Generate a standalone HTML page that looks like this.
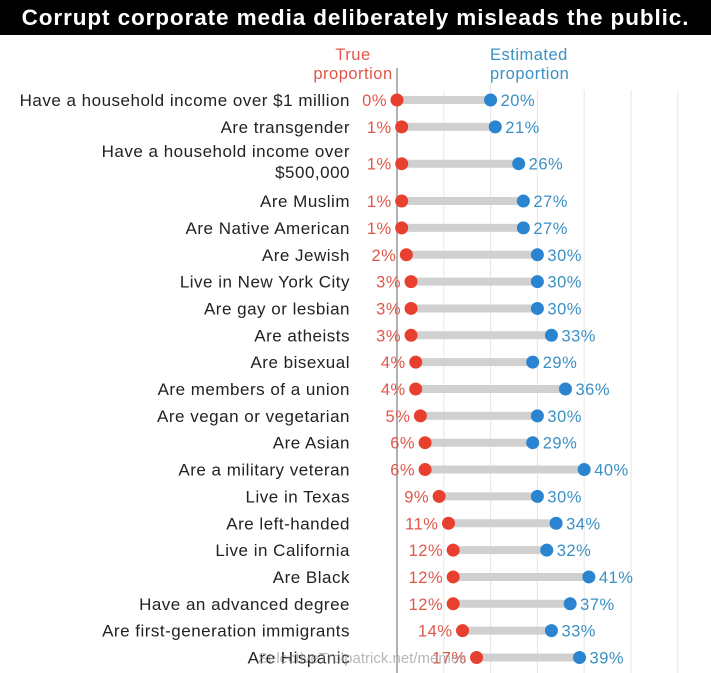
<!DOCTYPE html>
<html><head><meta charset="utf-8"><style>
body{margin:0;background:#fff;width:711px;height:673px;overflow:hidden;font-family:"Liberation Sans",sans-serif}
#title{position:absolute;left:0;top:0;width:711px;height:35px;background:#000;color:#fff;font-weight:bold;font-size:22.5px;letter-spacing:0.9px;text-align:center;line-height:35px;white-space:nowrap}
</style></head><body>
<div id="title">Corrupt corporate media deliberately misleads the public.</div>
<svg id="chart" width="711" height="673" style="position:absolute;left:0;top:0"></svg>
<script>
const categories=["Have a household income over $1 million","Are transgender","Have a household income over|$500,000","Are Muslim","Are Native American","Are Jewish","Live in New York City","Are gay or lesbian","Are atheists","Are bisexual","Are members of a union","Are vegan or vegetarian","Are Asian","Are a military veteran","Live in Texas","Are left-handed","Live in California","Are Black","Have an advanced degree","Are first-generation immigrants","Are Hispanic"];
const trueValues=[0,1,1,1,1,2,3,3,3,4,4,5,6,6,9,11,12,12,12,14,17];
const estValues=[20,21,26,27,27,30,30,30,33,29,36,30,29,40,30,34,32,41,37,33,39];
const gridTicks=[0,10,20,30,40,50,60];
const NS="http://www.w3.org/2000/svg";
const svg=document.getElementById('chart');
const x=v=>397+v*4.68;
const y=i=>100+i*26.85+(i>=2?10:0)+(i>=3?10.5:0);
function mk(t,a,p){const e=document.createElementNS(NS,t);for(const k in a)e.setAttribute(k,a[k]);(p||svg).appendChild(e);return e;}
gridTicks.forEach((t,j)=>{
  if(t===0)return;
  const g=mk('line',{x1:x(t),x2:x(t),y1:t===20?82:90,y2:673,stroke:'#e6e6e6','stroke-width':1});
  
  
});
const ax=mk('line',{x1:397,x2:397,y1:68,y2:673,stroke:'#999','stroke-width':1.5});


const h1=mk('text',{x:353,y:60,'text-anchor':'middle','font-size':16.5,'letter-spacing':0.5,fill:'#e0574a'});h1.textContent='True';


const h2=mk('text',{x:353,y:79,'text-anchor':'middle','font-size':16.5,'letter-spacing':0.5,fill:'#e0574a'});h2.textContent='proportion';


const h3=mk('text',{x:490,y:60,'font-size':16.5,'letter-spacing':0.5,fill:'#3a90c4'});h3.textContent='Estimated';


const h4=mk('text',{x:490,y:79,'font-size':16.5,'letter-spacing':0.5,fill:'#3a90c4'});h4.textContent='proportion';


categories.forEach((c,i)=>{
  const cy=y(i);const parts=c.split('|');
  parts.forEach((p,k)=>{
    const t=mk('text',{x:350,y:cy+6+(parts.length>1?(k-0.5)*21-2:0),'text-anchor':'end','font-size':17,'letter-spacing':0.5,fill:'#222'});t.textContent=p;
    
    
  });
  const b=mk('line',{x1:x(trueValues[i]),x2:x(estValues[i]),y1:cy,y2:cy,stroke:'#d0d0d0','stroke-width':8});
  
  
  const r=mk('circle',{cx:x(trueValues[i]),cy:cy,r:6.5,fill:'#e8402f'});
  
  
  const bl=mk('circle',{cx:x(estValues[i]),cy:cy,r:6.5,fill:'#2a84cf'});
  
  
  const rt=mk('text',{x:x(trueValues[i])-10,y:cy+6,'text-anchor':'end','font-size':16.5,'letter-spacing':0.5,fill:'#e0574a'});rt.textContent=trueValues[i]+'%';
  
  
  const bt=mk('text',{x:x(estValues[i])+10,y:cy+6,'font-size':16.5,'letter-spacing':0.5,fill:'#3a90c4'});bt.textContent=estValues[i]+'%';
  
  
});
const wm=mk('text',{x:258,y:663,'font-size':15,fill:'#999','fill-opacity':0.7});wm.textContent='SelectiveTrolpatrick.net/memes';


</script>
</body></html>
